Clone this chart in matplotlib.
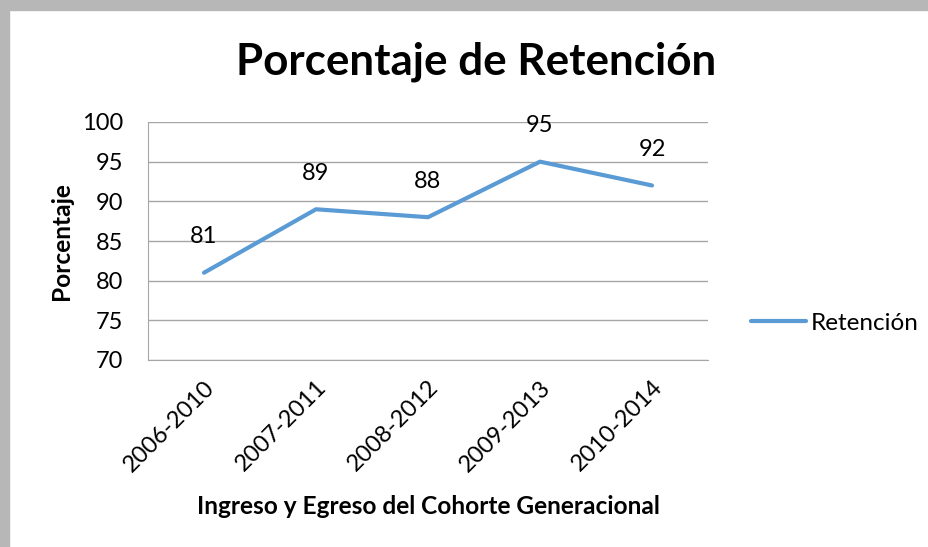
import matplotlib.pyplot as plt
from matplotlib.patches import Rectangle

cohortes = ['2006-2010', '2007-2011', '2008-2012', '2009-2013', '2010-2014']
retencion = [81, 89, 88, 95, 92]
yticks = [70, 75, 80, 85, 90, 95, 100]

plt.rcParams['font.family'] = ['Lato', 'DejaVu Sans']

W, H = 929, 547
fig = plt.figure(figsize=(W / 100, H / 100), dpi=100)
fig.patch.set_facecolor('white')

# gray frame at top and left (Excel window edge)
fig.add_artist(Rectangle((0, 1 - 10 / H), 1, 10 / H, transform=fig.transFigure,
                         color='#b7b7b7', zorder=0))
fig.add_artist(Rectangle((0, 0), 9 / W, 1, transform=fig.transFigure,
                         color='#b7b7b7', zorder=0))

ax = fig.add_axes([148 / W, 1 - 360 / H, (708 - 148) / W, (360 - 122) / H])
x = range(len(cohortes))
ax.plot(x, retencion, color='#5b9bd5', lw=3, label='Retención', solid_capstyle='round')

for xi, v in zip(x, retencion):
    ax.annotate(str(v), (xi, v), xytext=(0, 26), textcoords='offset points',
                ha='center', va='center', fontsize=17)

ax.set_xlim(-0.5, len(cohortes) - 0.5)
ax.set_ylim(70, 100)
ax.set_yticks(yticks)
ax.set_xticks(list(x))
ax.set_xticklabels(cohortes, rotation=45, ha='right', rotation_mode='anchor', fontsize=17)
ax.tick_params(axis='y', labelsize=17, length=0, pad=18)
ax.tick_params(axis='x', length=0, pad=12)
ax.grid(axis='y', color='#a6a6a6', lw=1)
ax.set_axisbelow(True)
for s in ['top', 'right']:
    ax.spines[s].set_visible(False)
for s in ['left', 'bottom']:
    ax.spines[s].set_color('#a6a6a6')

fig.text(62 / W, 1 - 241 / H, 'Porcentaje', rotation=90,
         ha='center', va='center', fontsize=17.6, fontweight='bold')
fig.text(428 / W, 1 - 507 / H, 'Ingreso y Egreso del Cohorte Generacional',
         ha='center', va='center', fontsize=17.6, fontweight='bold')
fig.text(476 / W, 1 - 62 / H, 'Porcentaje de Retención',
         ha='center', va='center', fontsize=31.7, fontweight='bold')

ax.legend(loc='center left', bbox_to_anchor=(729 / W, 1 - 323 / H),
          bbox_transform=fig.transFigure, frameon=False, fontsize=17.5,
          handlelength=2.25, handletextpad=0.2)

fig.savefig('out.png', dpi=100)
